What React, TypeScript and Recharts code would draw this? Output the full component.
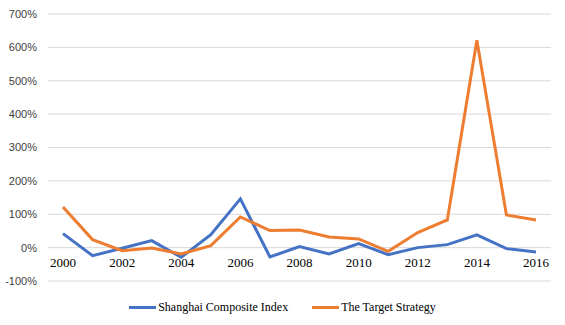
import { LineChart, Line, XAxis, YAxis, CartesianGrid, Legend } from "recharts";

const years = [
  "2000", "2001", "2002", "2003", "2004", "2005", "2006", "2007", "2008",
  "2009", "2010", "2011", "2012", "2013", "2014", "2015", "2016",
];
const shanghai = [42, -24, -2, 21, -29, 39, 146, -28, 3, -19, 12, -21, 0, 9, 38, -3, -13];
const strategy = [122, 24, -9, -1, -19, 6, 92, 51, 53, 32, 26, -11, 45, 83, 621, 98, 83];
const yTicks = [-100, 0, 100, 200, 300, 400, 500, 600, 700];

const data = years.map((year, i) => ({
  year,
  shanghai: shanghai[i],
  strategy: strategy[i],
}));

const series = [
  { key: "shanghai", name: "Shanghai Composite Index", color: "#4472C4" },
  { key: "strategy", name: "The Target Strategy", color: "#ED7D31" },
];

const YearTick = (props: any) => {
  const { x, y, payload } = props;
  return (
    <text
      x={x}
      y={y - 22}
      textAnchor="middle"
      fontFamily="'Liberation Serif', serif"
      fontSize={13}
      fill="#000"
    >
      {payload.value}
    </text>
  );
};

const LegendBox = () => (
  <div
    style={{
      height: 30,
      boxSizing: "border-box",
      paddingBottom: 5,
      paddingLeft: 14,
      display: "flex",
      justifyContent: "center",
      alignItems: "center",
      gap: 24,
      fontFamily: "'Liberation Serif', serif",
      fontSize: 12,
      color: "#000",
    }}
  >
    {series.map((s) => (
      <div key={s.key} style={{ display: "flex", alignItems: "center", gap: 2 }}>
        <div style={{ width: 27, height: 3, background: s.color }} />
        <span>{s.name}</span>
      </div>
    ))}
  </div>
);

export default function App() {
  return (
    <div style={{ position: "absolute", left: 0, top: 0, background: "#fff" }}>
      <LineChart
        width={565}
        height={325}
        data={data}
        margin={{ top: 14, right: 14, left: 0, bottom: 0 }}
      >
        <CartesianGrid vertical={false} stroke="#d9d9d9" strokeWidth={1} />
        <XAxis
          dataKey="year"
          interval={1}
          axisLine={false}
          tickLine={false}
          height={14}
          padding={{ left: 15, right: 15 }}
          tick={<YearTick />}
        />
        <YAxis
          width={48}
          domain={[-100, 700]}
          ticks={yTicks}
          axisLine={false}
          tickLine={false}
          tickMargin={5}
          tickFormatter={(v: number) => `${v}%`}
          tick={{ fill: "#404040", fontSize: 11, fontFamily: "'Liberation Sans', sans-serif" }}
        />
        <Legend verticalAlign="bottom" content={<LegendBox />} />
        {series.map((s) => (
          <Line
            key={s.key}
            dataKey={s.key}
            name={s.name}
            stroke={s.color}
            strokeWidth={3}
            dot={false}
            strokeLinejoin="miter"
            isAnimationActive={false}
          />
        ))}
      </LineChart>
    </div>
  );
}
